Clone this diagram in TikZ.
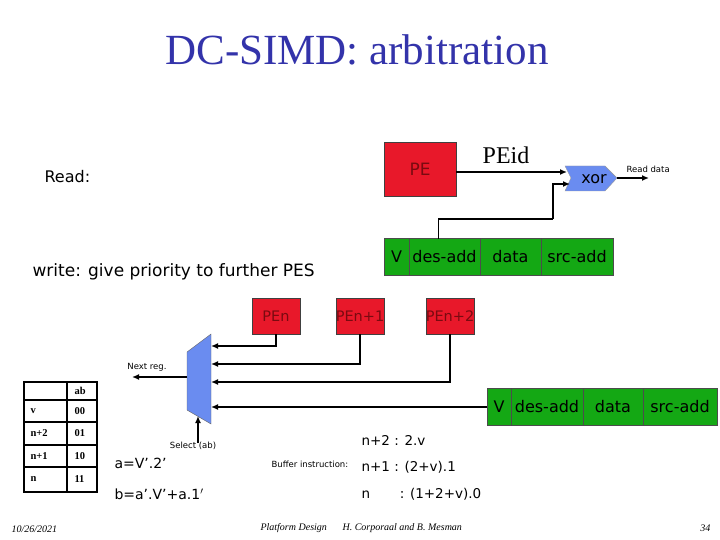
\documentclass[tikz,border=0pt]{standalone}
\usepackage{fontspec}
\setmainfont{Liberation Serif}
\setsansfont{DejaVu Sans}
\definecolor{slideblue}{HTML}{3333AA}
\definecolor{pered}{HTML}{E8182A}
\definecolor{petext}{HTML}{7A0A10}
\definecolor{reggreen}{HTML}{14A814}
\definecolor{muxblue}{HTML}{6A8CF0}
\usetikzlibrary{arrows.meta, positioning, calc}

\begin{document}
\begin{tikzpicture}[x=1pt, y=-1pt, every node/.style={font=\sffamily}]
        \tikzset{pebox/.style={draw=black!75, fill=pered, text=petext,
                 inner sep=0pt, outer sep=0pt},
                 regcell/.style={draw=black!70, fill=reggreen, inner sep=0pt,
                 outer sep=0pt, minimum height=37,
                 font=\fontsize{16}{18}\sffamily},
                 wire/.style={line width=1.7pt},
                 arr/.style={wire, -{Latex[length=7pt, width=6pt]}},
                 small/.style={font=\fontsize{8.5}{10}\sffamily},
                 eqn/.style={font=\fontsize{13.5}{16}\sffamily, anchor=west},
                 tab/.style={font=\fontsize{10.5}{12}\selectfont\bfseries, anchor=west},
                 foot/.style={font=\fontsize{10}{12}\itshape}}
        \useasboundingbox (0,0) rectangle (720,540);

        \node[text=slideblue, font=\fontsize{43}{48}\selectfont] (title) at (357,50) {DC-SIMD: arbitration};
        \node[font=\fontsize{16}{18}\sffamily, anchor=west] (read) at (41,177) {Read:};
        \node[font=\fontsize{17}{20}\sffamily, anchor=west] (write) at (29,272) {write: give priority to further PES};

        % read path
        \node[pebox, minimum width=72, minimum height=54, font=\fontsize{17}{20}\sffamily] (pe) at (420,169) {PE};
        \node[font=\fontsize{24}{28}\selectfont] (peid) at (506,155) {PEid};
        \fill[muxblue, draw=black!40] (565,166) -- (605,166) -- (617,178) -- (605,191) -- (565,191) -- (571,178) -- cycle;
        \node[font=\fontsize{16}{18}\sffamily] (xor) at (594,179) {xor};
        \coordinate (xin1) at (567,172);
        \coordinate (xin2) at (570,184);
        \coordinate (xout) at (617,178);
        \coordinate (rdend) at (649,178);
        \coordinate (bend) at (553,219);
        \node[small, anchor=south west] (rdata) at (623,176) {Read data};

        \node[regcell, minimum width=25, anchor=west] (rv) at (384,257) {V};
        \node[regcell, minimum width=71, right=0pt of rv] (rdes) {des-add};
        \node[regcell, minimum width=61, right=0pt of rdes] (rdat) {data};
        \node[regcell, minimum width=72, right=0pt of rdat] (rsrc) {src-add};

        \draw[arr] (pe.east |- xin1) -- (xin1);
        \draw[wire] ([xshift=-6pt]rdes.north) |- (bend);
        \draw[arr] (bend) |- (xin2);
        \draw[arr] (xout) -- (rdend);

        % write path
        \node[pebox, minimum width=48, minimum height=36, font=\fontsize{14.5}{16}\sffamily] (pen) at (276,316) {PEn};
        \node[pebox, minimum width=48, minimum height=36, font=\fontsize{14.5}{16}\sffamily] (pen1) at (360,316) {PEn+1};
        \node[pebox, minimum width=48, minimum height=36, font=\fontsize{14.5}{16}\sffamily] (pen2) at (450,316) {PEn+2};

        \fill[muxblue, draw=black!60] (187,352) -- (211,334) -- (211,424) -- (187,410) -- cycle;
        \coordinate (min1) at (211,346);
        \coordinate (min2) at (211,364);
        \coordinate (min3) at (211,382);
        \coordinate (min4) at (211,407);
        \coordinate (mout) at (187,377);
        \coordinate (nxt) at (132,377);
        \coordinate (msel) at (198,416);
        \coordinate (sel) at (198,443);

        \node[regcell, minimum width=24, anchor=west] (wv) at (487,407) {V};
        \node[regcell, minimum width=72, right=0pt of wv] (wdes) {des-add};
        \node[regcell, minimum width=60, right=0pt of wdes] (wdat) {data};
        \node[regcell, minimum width=74, right=0pt of wdat] (wsrc) {src-add};

        \draw[arr] (pen.south) |- (min1);
        \draw[arr] (pen1.south) |- (min2);
        \draw[arr] (pen2.south) |- (min3);
        \draw[arr] (wv.west) -- (min4);
        \draw[arr] (mout) -- (nxt);
        \draw[arr] (sel) -- (msel);
        \node[small] (nextreg) at (147,367) {Next reg.};
        \node[small] (select) at (193,446) {Select (ab)};

        % select table
        \draw[line width=2.6pt] (24,382) rectangle (97,492);
        \draw[line width=1.8pt] (67,382) -- (67,492);
        \foreach \y in {400,422,445,467}
          \draw[line width=1.8pt] (24,\y) -- (97,\y);
        \node[tab] (tab) at (71,391) {ab};
        \foreach \y/\r/\c in {411/v/00, 433/n+2/01, 456/n+1/10, 479/n/11} {
          \node[tab] at (27,\y) {\r};
          \node[tab] at (71,\y) {\c};
        }

        \node[eqn, font=\fontsize{14}{16}\sffamily] (eqa) at (111,463) {a=V'.2'};
        \node[eqn, font=\fontsize{14}{16}\sffamily] (eqb) at (111,494) {b=a'.V'+a.1$'$};
        \node[small, anchor=west] (buf) at (268,464) {Buffer instruction:};
        \node[eqn] (in2) at (358,440) {n+2 : 2.v};
        \node[eqn] (in1) at (358,467) {n+1 : (2+v).1};
        \node[eqn] (in0) at (358,494) {n\hspace{2.2em}: (1+2+v).0};

        % footer
        \node[foot, anchor=west] (date) at (8,529) {10/26/2021};
        \node[foot, anchor=west] (course) at (257,528) {Platform Design};
        \node[foot, anchor=west] (authors) at (339,528) {H. Corporaal and B. Mesman};
        \node[foot, anchor=east] (page) at (714,528) {34};
      \end{tikzpicture}
\end{document}
